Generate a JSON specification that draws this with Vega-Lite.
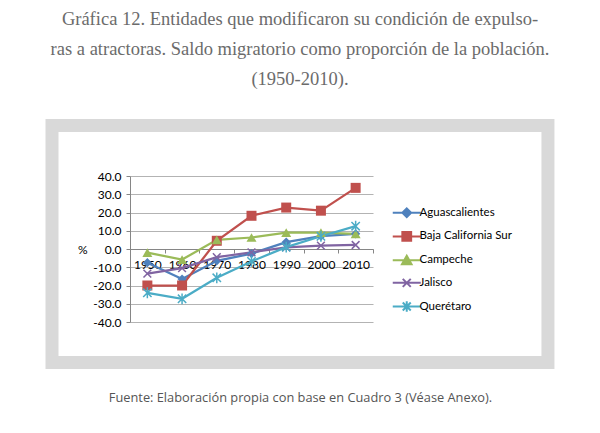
{
  "$schema": "https://vega.github.io/schema/vega-lite/v6.json",
  "width": 243,
  "height": 146,
  "autosize": {"type": "none"},
  "padding": {"left": 130, "top": 176, "right": 227, "bottom": 111},
  "background": "white",
  "title": {
    "text": ["Gráfica 12. Entidades que modificaron su condición de expulso-", "ras a atractoras. Saldo migratorio como proporción de la población.", "(1950-2010)."],
    "anchor": "middle",
    "frame": "group",
    "dx": 48.5,
    "offset": 30,
    "font": "Liberation Serif",
    "fontSize": 18.5,
    "fontWeight": "normal",
    "color": "#6b6b6b",
    "lineHeight": 30
  },
  "data": {
    "values": [
      {"state": "Aguascalientes", "year": "1950", "value": -7.5},
      {"state": "Aguascalientes", "year": "1960", "value": -16.5},
      {"state": "Aguascalientes", "year": "1970", "value": -6.5},
      {"state": "Aguascalientes", "year": "1980", "value": -2.5},
      {"state": "Aguascalientes", "year": "1990", "value": 3.8},
      {"state": "Aguascalientes", "year": "2000", "value": 7.0},
      {"state": "Aguascalientes", "year": "2010", "value": 8.3},
      {"state": "Baja California Sur", "year": "1950", "value": -20.0},
      {"state": "Baja California Sur", "year": "1960", "value": -20.0},
      {"state": "Baja California Sur", "year": "1970", "value": 4.5},
      {"state": "Baja California Sur", "year": "1980", "value": 18.2},
      {"state": "Baja California Sur", "year": "1990", "value": 22.7},
      {"state": "Baja California Sur", "year": "2000", "value": 21.0},
      {"state": "Baja California Sur", "year": "2010", "value": 33.5},
      {"state": "Campeche", "year": "1950", "value": -2.0},
      {"state": "Campeche", "year": "1960", "value": -5.8},
      {"state": "Campeche", "year": "1970", "value": 5.0},
      {"state": "Campeche", "year": "1980", "value": 6.3},
      {"state": "Campeche", "year": "1990", "value": 9.0},
      {"state": "Campeche", "year": "2000", "value": 9.0},
      {"state": "Campeche", "year": "2010", "value": 8.3},
      {"state": "Jalisco", "year": "1950", "value": -13.5},
      {"state": "Jalisco", "year": "1960", "value": -10.5},
      {"state": "Jalisco", "year": "1970", "value": -4.5},
      {"state": "Jalisco", "year": "1980", "value": -1.8},
      {"state": "Jalisco", "year": "1990", "value": 0.9},
      {"state": "Jalisco", "year": "2000", "value": 1.8},
      {"state": "Jalisco", "year": "2010", "value": 2.2},
      {"state": "Querétaro", "year": "1950", "value": -24.0},
      {"state": "Querétaro", "year": "1960", "value": -27.3},
      {"state": "Querétaro", "year": "1970", "value": -15.8},
      {"state": "Querétaro", "year": "1980", "value": -6.8},
      {"state": "Querétaro", "year": "1990", "value": 1.0},
      {"state": "Querétaro", "year": "2000", "value": 7.0},
      {"state": "Querétaro", "year": "2010", "value": 12.5}
    ]
  },
  "layer": [
    {
      "data": {"values": [{}]},
      "mark": {"type": "rect", "filled": false, "stroke": "#d9d9d9", "strokeWidth": 13, "clip": false},
      "encoding": {
        "x": {"datum": -0.321, "type": "quantitative", "scale": {"domain": [0, 1], "nice": false, "zero": false}, "axis": null},
        "x2": {"datum": 1.72},
        "y": {"datum": 67.7, "type": "quantitative"},
        "y2": {"datum": -62.2}
      }
    },
    {
      "layer": [
        {
          "mark": {"type": "line", "strokeWidth": 2.25},
          "encoding": {
            "x": {
              "field": "year", "type": "ordinal",
              "scale": {"type": "band", "paddingInner": 0, "paddingOuter": 0},
              "axis": {
                "orient": "bottom", "offset": -73,
                "title": "Fuente: Elaboración propia con base en Cuadro 3 (Véase Anexo).",
                "titleX": 170, "titleY": 148, "titleAlign": "center", "titleBaseline": "middle",
                "titleFont": "Open Sans", "titleFontSize": 12.8, "titleFontWeight": "normal", "titleColor": "#555555",
                "labelAngle": 0, "labelFont": "Lato", "labelFontSize": 12, "labelColor": "#000000", "labelPadding": 6,
                "tickBand": "extent", "tickSize": 4, "tickColor": "#868686", "domainColor": "#868686", "grid": false
              }
            },
            "y": {
              "field": "value", "type": "quantitative",
              "scale": {"domain": [-40, 40], "nice": false},
              "axis": {
                "orient": "left",
                "values": [-40, -30, -20, -10, 0, 10, 20, 30, 40],
                "tickCount": 9,
                "labelOverlap": false,
                "labelExpr": "replace(format(datum.value, '.1f'), '−', '-')",
                "title": "%", "titleAngle": 0, "titleAlign": "right", "titleBaseline": "middle",
                "titleX": -43, "titleY": 73,
                "titleFont": "Lato", "titleFontSize": 12, "titleFontWeight": "normal", "titleColor": "#000000",
                "labelFont": "Lato", "labelFontSize": 12, "labelColor": "#000000", "labelPadding": 5,
                "tickSize": 4, "tickColor": "#868686", "domainColor": "#868686",
                "grid": true, "gridColor": "#b3b3b3"
              }
            },
            "color": {
              "field": "state", "type": "nominal",
              "scale": {
                "domain": ["Aguascalientes", "Baja California Sur", "Campeche", "Jalisco", "Querétaro"],
                "range": ["#4F81BD", "#C0504D", "#9BBB59", "#8064A2", "#4BACC6"]
              },
              "legend": {
                "title": null, "orient": "none", "legendX": 271, "legendY": 31, "padding": 0,
                "symbolSize": 64, "labelOffset": 7, "rowPadding": 5.7,
                "labelFont": "Lato", "labelFontSize": 11.5, "labelColor": "#000000",
                "symbolStrokeWidth": 2,
                "encode": {
                  "symbols": {
                    "update": {
                      "shape": {"signal": "datum.value === 'Aguascalientes' ? 'M-3.5,0H3.5M0,-1.1L1.1,0L0,1.1L-1.1,0Z' : datum.value === 'Baja California Sur' ? 'M-3.5,0H3.5M-1.1,-1.1H1.1V1.1H-1.1Z' : datum.value === 'Campeche' ? 'M-3.5,0H3.5M0,-1.1L1.2,1L-1.2,1Z' : datum.value === 'Jalisco' ? 'M-3.5,0H3.5M-1,-1L1,1M-1,1L1,-1' : 'M-3.5,0H3.5M-1,-1L1,1M-1,1L1,-1M0,-1.3V1.3'"},
                      "fill": {"signal": "scale('color', datum.value)"},
                      "stroke": {"signal": "scale('color', datum.value)"},
                      "strokeWidth": {"value": 2},
                      "opacity": {"value": 1}
                    }
                  }
                }
              }
            }
          }
        },
        {
          "transform": [{"filter": "datum.state === 'Aguascalientes'"}],
          "mark": {"type": "point", "shape": "diamond", "filled": true, "color": "#4F81BD", "opacity": 1, "size": 85},
          "encoding": {"x": {"field": "year", "type": "ordinal"}, "y": {"field": "value", "type": "quantitative"}}
        },
        {
          "transform": [{"filter": "datum.state === 'Baja California Sur'"}],
          "mark": {"type": "point", "shape": "square", "filled": true, "color": "#C0504D", "opacity": 1, "size": 100},
          "encoding": {"x": {"field": "year", "type": "ordinal"}, "y": {"field": "value", "type": "quantitative"}}
        },
        {
          "transform": [{"filter": "datum.state === 'Campeche'"}],
          "mark": {"type": "point", "shape": "triangle-up", "filled": true, "color": "#9BBB59", "opacity": 1, "size": 100},
          "encoding": {"x": {"field": "year", "type": "ordinal"}, "y": {"field": "value", "type": "quantitative"}}
        },
        {
          "transform": [{"filter": "datum.state === 'Jalisco'"}],
          "mark": {"type": "point", "shape": "M-1,-1L1,1M-1,1L1,-1", "filled": false, "color": "#8064A2", "opacity": 1, "strokeWidth": 1.5, "size": 60},
          "encoding": {"x": {"field": "year", "type": "ordinal"}, "y": {"field": "value", "type": "quantitative"}}
        },
        {
          "transform": [{"filter": "datum.state === 'Querétaro'"}],
          "mark": {"type": "point", "shape": "M-1,-1L1,1M-1,1L1,-1M0,-1.3V1.3", "filled": false, "color": "#4BACC6", "opacity": 1, "strokeWidth": 1.5, "size": 70},
          "encoding": {"x": {"field": "year", "type": "ordinal"}, "y": {"field": "value", "type": "quantitative"}}
        }
      ]
    }
  ],
  "resolve": {"scale": {"x": "independent"}, "axis": {"x": "independent"}},
  "config": {"view": {"stroke": null}}
}
